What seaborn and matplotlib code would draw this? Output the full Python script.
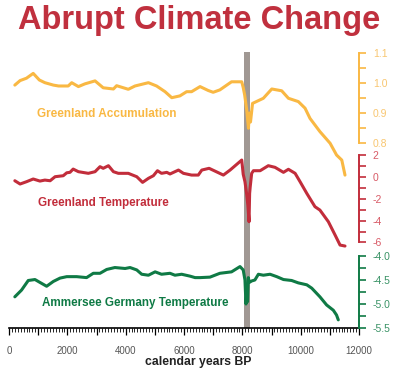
import matplotlib
matplotlib.use("Agg")
import matplotlib.pyplot as plt
from matplotlib.ticker import MultipleLocator, FixedLocator
import numpy as np
import seaborn as sns

# --- data ---
acc_years = [200, 380, 600, 830, 1040, 1230, 1520, 1700, 2030, 2150, 2380, 2600, 2950,
             3230, 3580, 3690, 4090, 4320, 4780, 5060, 5350, 5580, 5860, 6090, 6260, 6550,
             6830, 7000, 7230, 7630, 7980, 8030, 8080, 8150, 8180, 8210, 8240, 8280, 8320,
             8350, 8720, 9010, 9350, 9580, 9920, 10150, 10320, 10660, 11010, 11230, 11410, 11520]
acc_vals = [0.993, 1.008, 1.016, 1.032, 1.010, 1.001, 0.993, 0.990, 0.990, 1.001, 0.988, 0.997,
            1.007, 0.984, 0.980, 0.991, 0.979, 0.990, 1.001, 0.990, 0.971, 0.951, 0.957, 0.971,
            0.971, 0.988, 0.975, 0.969, 0.977, 1.004, 1.004, 0.985, 0.960, 0.910, 0.880, 0.849,
            0.900, 0.870, 0.905, 0.932, 0.949, 0.980, 0.974, 0.949, 0.938, 0.916, 0.882, 0.838,
            0.799, 0.760, 0.743, 0.693]

temp_years = [200, 380, 600, 830, 1060, 1230, 1410, 1580, 1860, 1980, 2090, 2200, 2380, 2720,
              2950, 3120, 3230, 3410, 3580, 3750, 4090, 4380, 4580, 4780, 4950, 5090, 5230,
              5410, 5520, 5810, 5980, 6260, 6490, 6610, 6860, 7350, 7580, 7980, 8030, 8090,
              8150, 8190, 8230, 8250, 8270, 8320, 8380, 8610, 8890, 9120, 9410, 9580, 9810,
              9980, 10210, 10490, 10660, 10950, 11180, 11350, 11520]
temp_vals = [-0.34, -0.64, -0.43, -0.18, -0.37, -0.28, -0.34, 0.03, 0.12, 0.39, 0.43, 0.73,
             0.49, 0.34, 0.49, 0.95, 0.80, 1.04, 0.49, 0.34, 0.34, 0.03, -0.49, -0.12, 0.12,
             0.58, 0.34, 0.43, 0.28, 0.64, 0.34, 0.18, 0.18, 0.64, 0.80, 0.18, 0.64, 1.56,
             0.25, -0.43, -1.60, -2.60, -4.10, -1.50, -0.90, 0.34, 0.58, 0.58, 1.04, 0.89,
             0.43, 0.71, 0.34, -0.43, -1.50, -2.72, -3.03, -4.10, -5.32, -6.24, -6.33]

amm_years = [200, 430, 660, 890, 1060, 1290, 1520, 1750, 1980, 2320, 2660, 2890, 3120, 3350,
             3630, 3980, 4150, 4380, 4550, 4780, 5010, 5230, 5520, 5690, 5920, 6210, 6380,
             6550, 6890, 7230, 7630, 7920, 8030, 8090, 8125, 8150, 8180, 8205, 8240, 8320,
             8430, 8550, 8720, 8950, 9180, 9410, 9690, 9920, 10210, 10380, 10660, 10890,
             11120, 11230, 11290]
amm_vals = [-4.85, -4.71, -4.51, -4.49, -4.55, -4.63, -4.53, -4.46, -4.43, -4.43, -4.45, -4.36,
            -4.36, -4.28, -4.24, -4.26, -4.24, -4.29, -4.38, -4.40, -4.33, -4.38, -4.36, -4.40,
            -4.38, -4.42, -4.45, -4.45, -4.44, -4.36, -4.33, -4.22, -4.29, -4.50, -5.00, -4.78,
            -4.95, -4.45, -4.55, -4.52, -4.50, -4.38, -4.40, -4.38, -4.43, -4.49, -4.51, -4.56,
            -4.60, -4.67, -4.85, -5.02, -5.13, -5.23, -5.33]

event_span = (8050, 8250)   # 8.2 ka event
x_ticks = list(range(0, 12001, 1000))
x_tick_labels = [str(t) if t % 2000 == 0 else '' for t in x_ticks]
acc_ticks = [0.8, 0.9, 1.0, 1.1]
acc_tick_labels = ['0.8', '0.9', '1.0', '1.1']
temp_ticks = [-6, -4, -2, 0, 2]
temp_tick_labels = ['-6', '-4', '-2', '0', '2']
amm_ticks = [-5.5, -5.0, -4.5, -4.0]
amm_tick_labels = ['-5.5', '-5.0', '-4.5', '-4.0']

ORANGE = '#f9b843'
RED = '#c22d3b'
GREEN = '#0f7a45'
TITLE_RED = '#c0303e'

sns.set_style('white')
plt.rcParams['font.family'] = ['Liberation Sans', 'DejaVu Sans']

fig = plt.figure(figsize=(4, 3.73), dpi=100)
ax = fig.add_axes([0.0225, 0.1206, 0.875, 0.740])
ax.set_xlim(0, 12000)
ax.set_ylim(0, 1)
ax.axvspan(*event_span, color='#a09893', lw=0, zorder=0)
for s in ['top', 'left', 'right']:
    ax.spines[s].set_visible(False)
ax.spines['bottom'].set_color('black')
ax.spines['bottom'].set_linewidth(1.2)
ax.set_yticks([])
ax.set_xticks(x_ticks)
ax.set_xticklabels(x_tick_labels)
ax.xaxis.set_minor_locator(MultipleLocator(100))
ax.tick_params(axis='x', which='major', direction='out', length=5, width=0.9,
               color='black', labelsize=7, labelcolor='#555555', pad=8, bottom=True)
ax.tick_params(axis='x', which='minor', direction='out', length=3, width=0.6,
               color='black', bottom=True)


def series_axis(years, vals, color, tick_color, ylim, ticks, labels, minor):
    a = ax.twinx()
    a.patch.set_visible(False)
    sns.lineplot(x=years, y=vals, ax=a, color=color, linewidth=2.2)
    a.set_ylim(*ylim)
    a.set_xlim(0, 12000)
    for s in ['top', 'left', 'bottom']:
        a.spines[s].set_visible(False)
    a.spines['right'].set_color(color)
    a.spines['right'].set_linewidth(1.4)
    a.spines['right'].set_bounds(ticks[0], ticks[-1])
    a.set_yticks(ticks)
    a.set_yticklabels(labels)
    # minor ticks only inside the spine bounds
    a.yaxis.set_minor_locator(FixedLocator(np.arange(ticks[0] + minor, ticks[-1], minor * 2)))
    a.tick_params(axis='y', which='both', direction='out', length=5, width=1.2,
                  color=color, labelsize=7.5, labelcolor=tick_color, pad=5)
    a.set_ylabel('')
    return a


series_axis(acc_years, acc_vals, ORANGE, '#f8c670', (0.1833, 1.1033),
            acc_ticks, acc_tick_labels, 0.05)
series_axis(temp_years, temp_vals, RED, '#d85a66', (-13.85, 11.47),
            temp_ticks, temp_tick_labels, 1)
series_axis(amm_years, amm_vals, GREEN, '#3a9366', (-5.5, 0.25),
            amm_ticks, amm_tick_labels, 0.25)

fig.text(0.4975, 1 - 20 / 373, 'Abrupt Climate Change', ha='center', va='center',
         fontsize=23.5, fontweight='bold', color=TITLE_RED)
fig.text(37 / 400, 1 - 114 / 373, 'Greenland Accumulation', ha='left', va='center',
         fontsize=8.5, fontweight='bold', color=ORANGE)
fig.text(38 / 400, 1 - 203 / 373, 'Greenland Temperature', ha='left', va='center',
         fontsize=8.4, fontweight='bold', color=RED)
fig.text(42 / 400, 1 - 303 / 373, 'Ammersee Germany Temperature', ha='left', va='center',
         fontsize=8.4, fontweight='bold', color=GREEN)
fig.text(198 / 400, 1 - 362 / 373, 'calendar years BP', ha='center', va='center',
         fontsize=8.8, fontweight='bold', color='#222222')

fig.savefig('out.png', dpi=100)
